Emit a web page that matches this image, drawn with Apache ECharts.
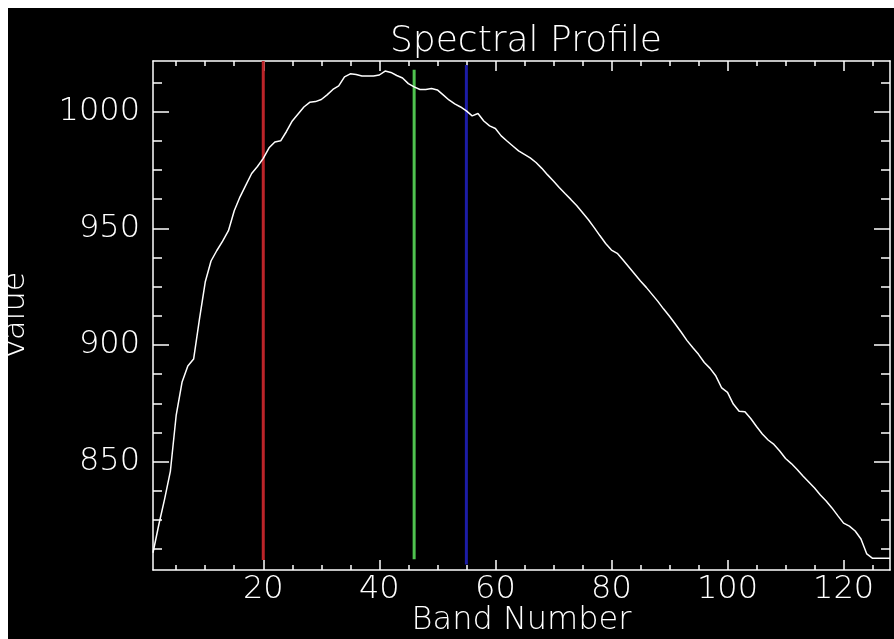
<!DOCTYPE html>
<html>
<head>
<meta charset="utf-8">
<script src="https://cdn.jsdelivr.net/npm/echarts@6/dist/echarts.min.js"></script>
<style>
    html, body { margin: 0; padding: 0; background: #fff; }
    #chart { position: absolute; left: 8px; top: 8px; width: 886px; height: 631px; background: #000; }
</style>
</head>
<body>
<div id="chart"></div>
<script>
// band numbers 1..128
const bands = [
    1, 2, 3, 4, 5, 6, 7, 8, 9, 10, 11, 12, 13, 14, 15, 16,
    17, 18, 19, 20, 21, 22, 23, 24, 25, 26, 27, 28, 29, 30, 31, 32,
    33, 34, 35, 36, 37, 38, 39, 40, 41, 42, 43, 44, 45, 46, 47, 48,
    49, 50, 51, 52, 53, 54, 55, 56, 57, 58, 59, 60, 61, 62, 63, 64,
    65, 66, 67, 68, 69, 70, 71, 72, 73, 74, 75, 76, 77, 78, 79, 80,
    81, 82, 83, 84, 85, 86, 87, 88, 89, 90, 91, 92, 93, 94, 95, 96,
    97, 98, 99, 100, 101, 102, 103, 104, 105, 106, 107, 108, 109, 110, 111, 112,
    113, 114, 115, 116, 117, 118, 119, 120, 121, 122, 123, 124, 125, 126, 127, 128
];
// spectral values
const values = [
    811.0, 823.0, 834.0, 846.0, 870.0, 884.0, 891.0, 894.0, 911.0, 927.0, 936.0, 940.5, 944.5, 949.0, 957.5, 963.5,
    968.5, 973.5, 976.5, 980.0, 984.5, 987.0, 987.5, 991.5, 996.0, 999.0, 1002.0, 1004.0, 1004.3, 1005.2, 1007.2, 1009.5,
    1011.0, 1014.9, 1016.2, 1015.9, 1015.3, 1015.3, 1015.3, 1015.7, 1017.4, 1016.8, 1015.5, 1014.4, 1012.0, 1010.6, 1009.5, 1009.5,
    1009.9, 1009.3, 1007.2, 1005.0, 1003.3, 1002.0, 1000.3, 998.2, 999.2, 996.0, 993.9, 992.8, 989.6, 987.4, 985.3, 983.2,
    981.7, 980.2, 978.2, 975.7, 972.9, 970.3, 967.5, 964.9, 962.4, 959.8, 956.8, 953.8, 950.4, 946.9, 943.5, 940.7,
    939.3, 936.4, 933.4, 930.4, 927.4, 924.7, 921.7, 918.7, 915.4, 912.3, 909.0, 905.6, 902.0, 898.9, 896.0, 892.5,
    890.0, 886.7, 881.6, 879.7, 874.7, 871.6, 871.4, 868.5, 865.1, 861.9, 859.3, 857.4, 854.6, 851.4, 849.2, 846.7,
    843.9, 841.3, 838.7, 835.7, 833.2, 830.2, 826.9, 823.7, 822.4, 820.3, 816.9, 810.5, 808.6, 808.6, 808.6, 808.6
];
// R / G / B band markers
const markerBands = [20, 46, 55];
const markerLow = [807.9, 808.2, 806.0];
const markerHigh = [1021.7, 1017.9, 1020.0];
const markerColors = ['#bb2429', '#4fc34f', '#1c1ca6'];

// axis range and ticks
const xRange = [1, 128];
const yRange = [803.6, 1021.7];
const xMajor = [20, 40, 60, 80, 100, 120];
const xMinor = [5, 10, 15, 25, 30, 35, 45, 50, 55, 65, 70, 75, 85, 90, 95, 105, 110, 115, 125];
const yMajor = [850, 900, 950, 1000];
const yMinor = [812.5, 825, 837.5, 862.5, 875, 887.5, 912.5, 925, 937.5, 962.5, 975, 987.5, 1012.5];

const FONT = 'DejaVu Sans';
const WEIGHT = 200;
const lineStyle = { color: '#fff', width: 1.5 };

const chart = echarts.init(document.getElementById('chart'));

const xAxisOf = (position, ticks, len, isMain) => ({
    type: 'value',
    position,
    min: xRange[0],
    max: xRange[1],
    splitLine: { show: false },
    axisLine: { show: isMain, onZero: false, lineStyle },
    axisTick: { show: true, inside: true, length: len, customValues: ticks, lineStyle },
    axisLabel: {
        show: isMain && position === 'bottom',
        customValues: xMajor,
        formatter: v => String(v),
        color: '#fff',
        fontFamily: FONT,
        fontWeight: WEIGHT,
        fontSize: 32,
        margin: 4
    },
    name: isMain && position === 'bottom' ? 'Band Number' : '',
    nameLocation: 'middle',
    nameGap: 35,
    nameMoveOverlap: false,
    nameTextStyle: { color: '#fff', fontFamily: FONT, fontWeight: WEIGHT, fontSize: 32 }
});

const yAxisOf = (position, ticks, len, isMain) => ({
    type: 'value',
    position,
    min: yRange[0],
    max: yRange[1],
    splitLine: { show: false },
    axisLine: { show: isMain, onZero: false, lineStyle },
    axisTick: { show: true, inside: true, length: len, customValues: ticks, lineStyle },
    axisLabel: {
        show: isMain && position === 'left',
        customValues: yMajor,
        formatter: v => String(v),
        color: '#fff',
        fontFamily: FONT,
        fontWeight: WEIGHT,
        fontSize: 32,
        margin: 13
    },
    name: isMain && position === 'left' ? 'Value' : '',
    nameLocation: 'middle',
    nameGap: 121,
    nameMoveOverlap: false,
    nameTextStyle: { color: '#fff', fontFamily: FONT, fontWeight: WEIGHT, fontSize: 32 }
});

const markerSeries = markerBands.map((b, i) => ({
    type: 'line',
    xAxisIndex: 0,
    yAxisIndex: 0,
    data: [[b, markerLow[i]], [b, markerHigh[i]]],
    showSymbol: false,
    silent: true,
    z: 2,
    lineStyle: { color: markerColors[i], width: 3 }
}));

const option = {
    backgroundColor: '#000',
    animation: false,
    title: {
        text: 'Spectral Profile',
        left: 513,
        top: 11,
        textAlign: 'center',
        textStyle: { color: '#fff', fontFamily: FONT, fontSize: 36, fontWeight: WEIGHT }
    },
    grid: { left: 145, top: 53, right: 4, bottom: 69, containLabel: false, outerBoundsMode: 'none' },
    xAxis: [
        xAxisOf('bottom', xMajor, 10, true),
        xAxisOf('bottom', xMinor, 5, false),
        xAxisOf('top', xMajor, 10, true),
        xAxisOf('top', xMinor, 5, false)
    ],
    yAxis: [
        yAxisOf('left', yMajor, 16, true),
        yAxisOf('left', yMinor, 9, false),
        yAxisOf('right', yMajor, 16, true),
        yAxisOf('right', yMinor, 9, false)
    ],
    series: [
        ...markerSeries,
        {
            type: 'line',
            xAxisIndex: 0,
            yAxisIndex: 0,
            data: bands.map((b, i) => [b, values[i]]),
            showSymbol: false,
            z: 3,
            lineStyle: { color: '#fff', width: 1.5 }
        }
    ]
};

chart.setOption(option);
</script>
</body>
</html>
